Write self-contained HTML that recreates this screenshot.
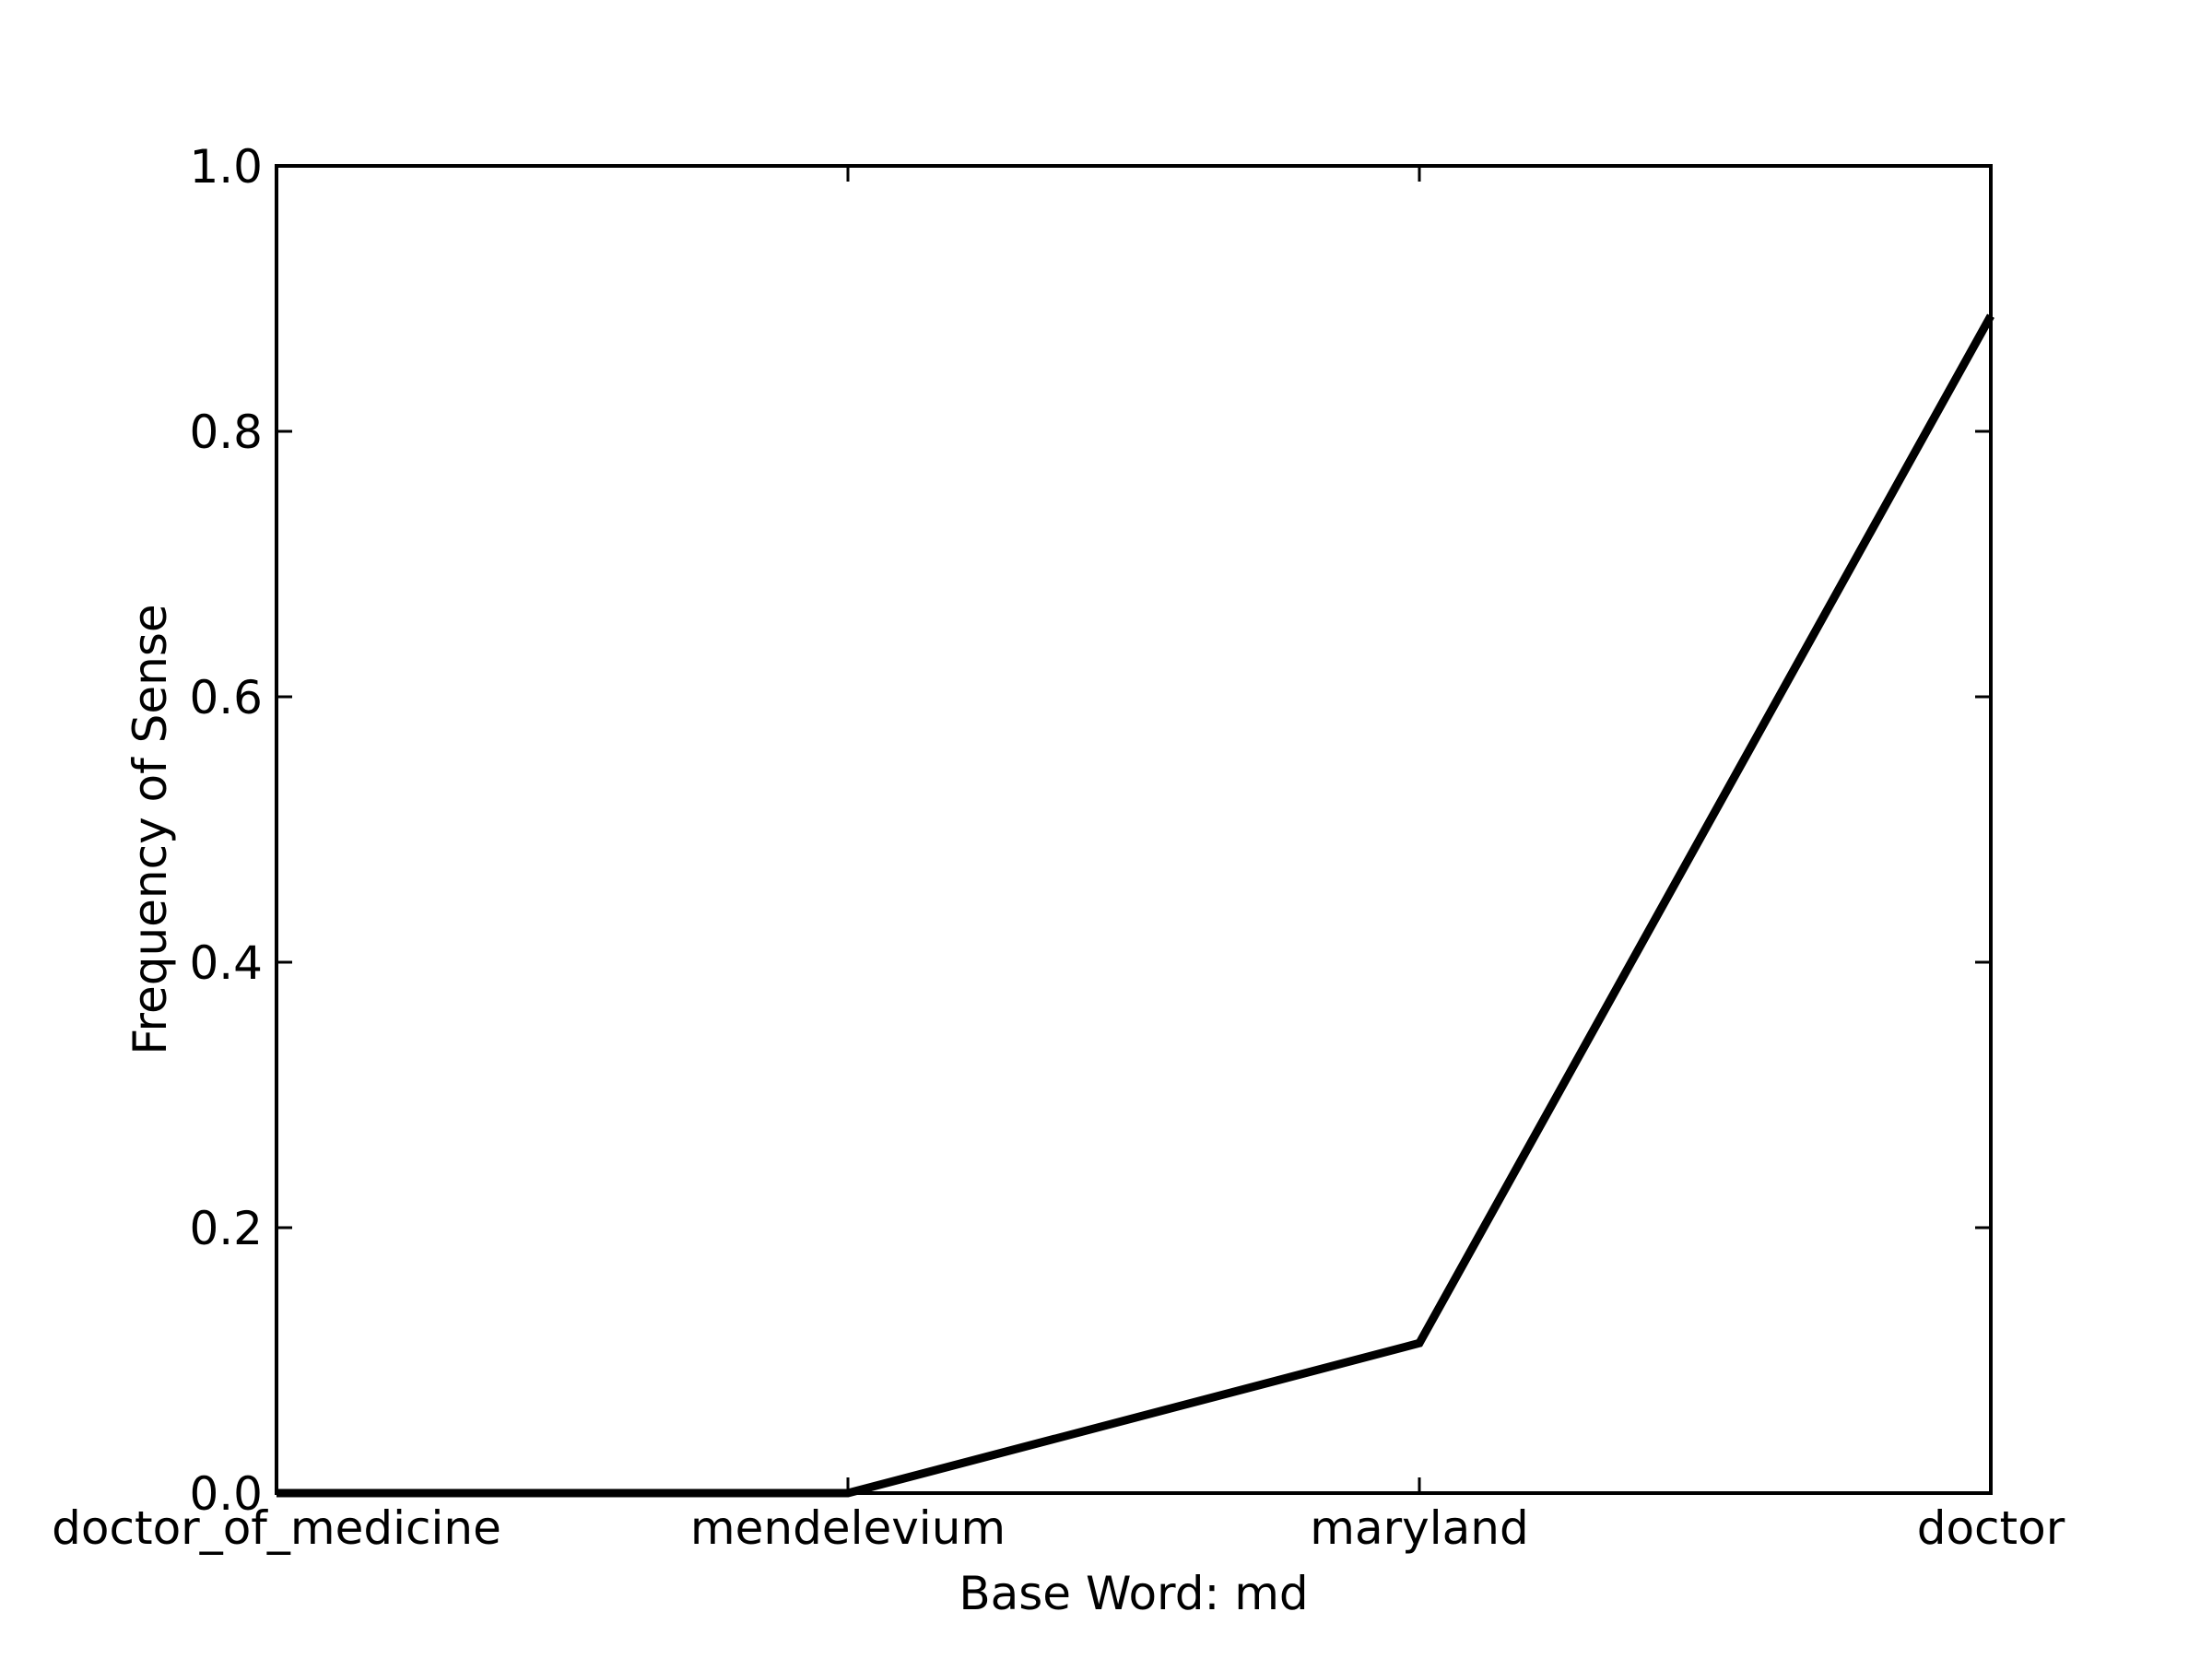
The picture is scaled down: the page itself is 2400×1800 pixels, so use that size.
<!DOCTYPE html>
<html><head><meta charset="utf-8"><style>
html,body{margin:0;padding:0;background:#fff;}
svg{display:block;font-family:"DejaVu Sans","Liberation Sans",sans-serif;}
</style></head><body>
<svg id="chart" width="2400" height="1800" viewBox="0 0 2400 1800">
<rect width="2400" height="1800" fill="#fff"/>
<g id="plot"></g>
</svg>
<script>
const categories = ["doctor_of_medicine","mendelevium","maryland","doctor"];
const values = [0.0, 0.0, 0.113, 0.887];
const yTicks = [0.0, 0.2, 0.4, 0.6, 0.8, 1.0];
const yTickLabels = ["0.0","0.2","0.4","0.6","0.8","1.0"];

const L=300,R=2160,T=180,B=1620;
const NS="http://www.w3.org/2000/svg";
const g=document.getElementById('plot');
function x(i){return L+(R-L)*i/(categories.length-1);}
function y(v){return B-(B-T)*v;}
function mk(tag,attrs){const e=document.createElementNS(NS,tag);for(const k in attrs)e.setAttribute(k,attrs[k]);g.appendChild(e);return e;}

const pts=values.map((v,i)=>x(i)+','+y(v)).join(' ');
const line=mk('polyline',{points:pts,fill:'none',stroke:'#000','stroke-width':9,'stroke-linejoin':'miter'});



yTicks.forEach((t,i)=>{
  const a=mk('line',{x1:L,x2:L+17,y1:y(t),y2:y(t),stroke:'#000','stroke-width':3});
  
  
  const b=mk('line',{x1:R,x2:R-17,y1:y(t),y2:y(t),stroke:'#000','stroke-width':3});
  
  
  const tx=mk('text',{x:L-15,y:y(t)+18,'text-anchor':'end','font-size':50});
  tx.textContent=yTickLabels[i];
  
  
});
categories.forEach((c,i)=>{
  const a=mk('line',{x1:x(i),x2:x(i),y1:B,y2:B-17,stroke:'#000','stroke-width':3});
  
  
  const b=mk('line',{x1:x(i),x2:x(i),y1:T,y2:T+17,stroke:'#000','stroke-width':3});
  
  
  const tx=mk('text',{x:x(i),y:B+55,'text-anchor':'middle','font-size':50});
  tx.textContent=c;
  
  
});

const fr=mk('rect',{x:L,y:T,width:R-L,height:B-T,fill:'none',stroke:'#000','stroke-width':4});



const xl=mk('text',{x:(L+R)/2,y:1746,'text-anchor':'middle','font-size':50});
xl.textContent='Base Word: md';


const yl=mk('text',{x:0,y:0,'text-anchor':'middle','font-size':50,transform:'translate(180,'+((T+B)/2)+') rotate(-90)'});
yl.textContent='Frequency of Sense';


</script>
</body></html>
